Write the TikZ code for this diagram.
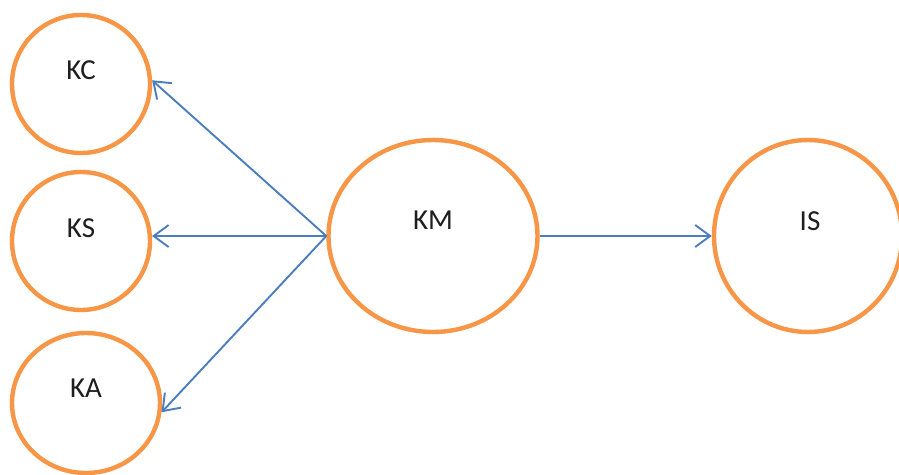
\documentclass[tikz,border=0pt]{standalone}
\usepackage{fontspec}
\setmainfont{Carlito}
\usetikzlibrary{shapes.geometric,arrows.meta}
\definecolor{ringorange}{RGB}{247,150,70}
\definecolor{linkblue}{RGB}{74,126,190}
\definecolor{labelgray}{RGB}{30,30,30}
\begin{document}
\begin{tikzpicture}[x=1pt,y=-1pt,
  disc/.style={ellipse,draw=ringorange,line width=4.4pt,fill=white,inner sep=0pt},
  lbl/.style={text=labelgray,font=\fontsize{29}{34}\selectfont,inner sep=0pt},
  link/.style={draw=linkblue,line width=1.9pt,-{Straight Barb[length=15pt,width=22pt,line width=1.9pt]}}]
  \useasboundingbox[fill=white] (0,0) rectangle (899,474);

  % circles
  \node[disc,minimum width=138pt,minimum height=138pt] (kc) at (81,84) {};
  \node[disc,minimum width=138pt,minimum height=138pt] (ks) at (81,241) {};
  \node[disc,minimum width=148pt,minimum height=140pt] (ka) at (86,403) {};
  \node[disc,minimum width=209pt,minimum height=192pt] (km) at (433,236) {};
  \node[disc,minimum width=188pt,minimum height=192pt] (is) at (808,236) {};

  % labels, set a little above each centre
  \node[lbl] (kc-t) at ([yshift=14pt]kc.center) {KC};
  \node[lbl] (ks-t) at ([yshift=13pt]ks.center) {KS};
  \node[lbl] (ka-t) at ([yshift=15pt]ka.center) {KA};
  \node[lbl] (km-t) at ([yshift=16pt]km.center) {KM};
  \node[lbl] (is-t) at ([yshift=15pt,xshift=2pt]is.center) {IS};

  % connectors
  \draw[link] (km.west) -- (kc.3);
  \draw[link] (km.west) -- (ks.4);
  \draw[link] (km.west) -- (ka.-7);
  \draw[link] (km.east) -- (is.west);
\end{tikzpicture}
\end{document}
